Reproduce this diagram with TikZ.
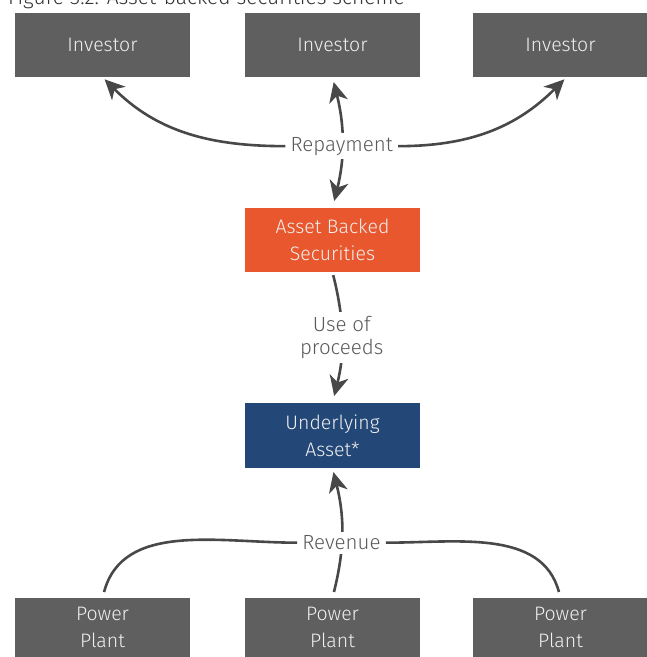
\documentclass[tikz,border=0pt]{standalone}
\usepackage{fontspec}
\setmainfont{Fira Sans}[UprightFont=* Light]
\usetikzlibrary{arrows.meta}

\definecolor{boxgray}{HTML}{5F5F5F}
\definecolor{absorange}{HTML}{E8572E}
\definecolor{assetblue}{HTML}{234878}
\definecolor{linegray}{HTML}{484848}
\definecolor{labelgray}{HTML}{5A5A5A}

\tikzset{
  bigtip/.tip={Stealth[length=20pt,width=19pt,inset=6pt]},
  box/.style={minimum width=175pt, minimum height=64pt, inner sep=0pt,
    align=center, text=white!94!black, font=\fontsize{19.5}{27}\selectfont},
  link/.style={draw=linegray, line width=2.6pt},
  lbl/.style={fill=white, text=labelgray, inner sep=4pt, align=center,
    font=\fontsize{20.5}{23}\selectfont}
}

\begin{document}
\begin{tikzpicture}[x=1pt, y=-1pt]
    \useasboundingbox (0,0) rectangle (647,657);

    % 标题
    \node[anchor=base west, inner sep=0pt, text=black!80, font=\fontsize{21}{25}\selectfont]
        (cap) at (8,4.5) {Figure 3.2: Asset-backed securities scheme};

    % 方框
    \node[box, fill=boxgray] (inv1) at (102.5,45) {Investor};
    \node[box, fill=boxgray] (inv2) at (332.5,45) {Investor};
    \node[box, fill=boxgray] (inv3) at (560.5,45) {Investor};
    \node[box, fill=absorange] (abs) at (332.5,240) {Asset Backed\\Securities};
    \node[box, fill=assetblue, minimum height=65pt] (under) at (332.5,435.5) {Underlying\\Asset*};
    \node[box, fill=boxgray, minimum height=59pt] (pp1) at (102.5,627.5) {Power\\Plant};
    \node[box, fill=boxgray, minimum height=59pt] (pp2) at (332.5,627.5) {Power\\Plant};
    \node[box, fill=boxgray, minimum height=59pt] (pp3) at (560.5,627.5) {Power\\Plant};

    % 画线
    \draw[link, bigtip-bigtip, shorten <=7pt, shorten >=5pt]
        (abs.north) to[bend right=14] node[lbl, pos=0.47] (rep) {Repayment} (inv2.south);
    \draw[link, -bigtip, shorten >=3pt] (rep.west) to[out=180, in=-45] (inv1.south);
    \draw[link, -bigtip, shorten >=3pt] (rep.east) to[out=0, in=-135] ([xshift=6pt]inv3.south);

    \draw[link, -bigtip, shorten <=3pt, shorten >=7pt]
        (abs.south) to[bend left=14] node[lbl] (use) {Use of\\proceeds} (under.north);

    \draw[link, -bigtip, shorten <=6pt, shorten >=4pt]
        (pp2.north) to[bend right=14] node[lbl, pos=0.42] (rev) {Revenue} (under.south);
    \draw[link, shorten <=6pt] (pp1.north) to[out=75, in=180] (rev.west);
    \draw[link, shorten >=6pt] (rev.east) to[out=0, in=105] (pp3.north);
\end{tikzpicture}
\end{document}
